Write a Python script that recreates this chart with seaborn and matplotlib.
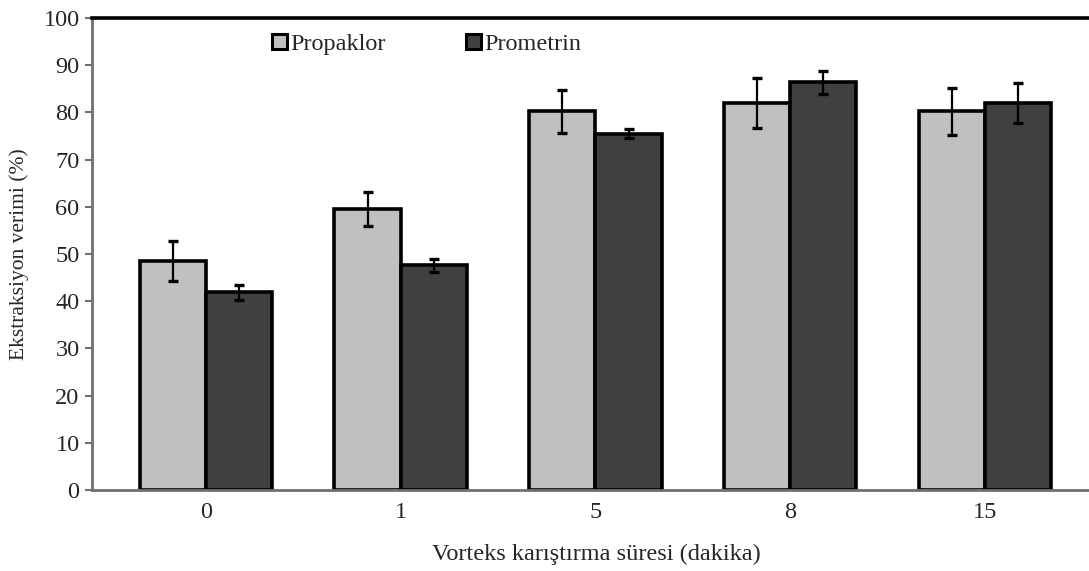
import matplotlib
matplotlib.use("Agg")
import matplotlib.pyplot as plt
import seaborn as sns
import pandas as pd
import numpy as np
from matplotlib.patches import Patch

# Vortex mixing time (min) and extraction recovery (%) with error bars
times = ["0", "1", "5", "8", "15"]
propaklor = [48.5, 59.5, 80.2, 82.0, 80.2]
propaklor_err = [4.3, 3.6, 4.5, 5.3, 4.9]
prometrin = [41.9, 47.6, 75.5, 86.4, 82.0]
prometrin_err = [1.6, 1.4, 1.0, 2.4, 4.3]
series = ["Propaklor", "Prometrin"]
colors = ["#c0c0c0", "#404040"]

df = pd.DataFrame({
    "time": times * 2,
    "value": propaklor + prometrin,
    "err": propaklor_err + prometrin_err,
    "series": [series[0]] * len(times) + [series[1]] * len(times),
})

sns.set_style("white")
plt.rcParams["font.family"] = ["Liberation Serif", "DejaVu Serif"]

FS = 17.5

fig = plt.figure(figsize=(10.89, 5.71), dpi=100)
ax = fig.add_axes([92 / 1089, 81 / 571, 1 - 92 / 1089 + 0.01, (490 - 18) / 571])

sns.barplot(data=df, x="time", y="value", hue="series", order=times,
            hue_order=series, palette=colors, width=0.68, errorbar=None,
            edgecolor="black", linewidth=2.6, legend=False, ax=ax)

# error bars at the centre of each bar
for cont, vals, errs in zip(ax.containers, [propaklor, prometrin],
                            [propaklor_err, prometrin_err]):
    xs = [p.get_x() + p.get_width() / 2 for p in cont.patches]
    ax.errorbar(xs, vals, yerr=errs, fmt="none", ecolor="black",
                elinewidth=1.6, capsize=3.4, capthick=2.4, zorder=5)

ax.set_ylim(0, 100)
ax.set_yticks(np.arange(0, 101, 10))
ax.set_xlim(-0.585, 4.59)

for side in ["left", "bottom"]:
    ax.spines[side].set_color("#707070")
    ax.spines[side].set_linewidth(2.0)
ax.spines["top"].set_color("black")
ax.spines["top"].set_linewidth(2.6)
ax.spines["right"].set_visible(False)

ax.tick_params(axis="y", which="major", left=True, length=5, width=1.5,
               color="#707070", labelsize=FS, pad=4)
ax.tick_params(axis="x", bottom=False, labelsize=FS, pad=5)

ax.set_xlabel("Vorteks karıştırma süresi (dakika)", fontsize=FS, labelpad=15)
ax.set_ylabel("Ekstraksiyon verimi (%)", fontsize=15.5, labelpad=10)

handles = [Patch(facecolor=c, edgecolor="black", linewidth=2.2) for c in colors]
ax.legend(handles, series, ncol=2, frameon=False, fontsize=FS,
          loc="upper left", bbox_to_anchor=(0.157, 1.013),
          handlelength=0.6, handleheight=0.6, handletextpad=0.15,
          columnspacing=3.3)

fig.savefig("out.png", dpi=100)
